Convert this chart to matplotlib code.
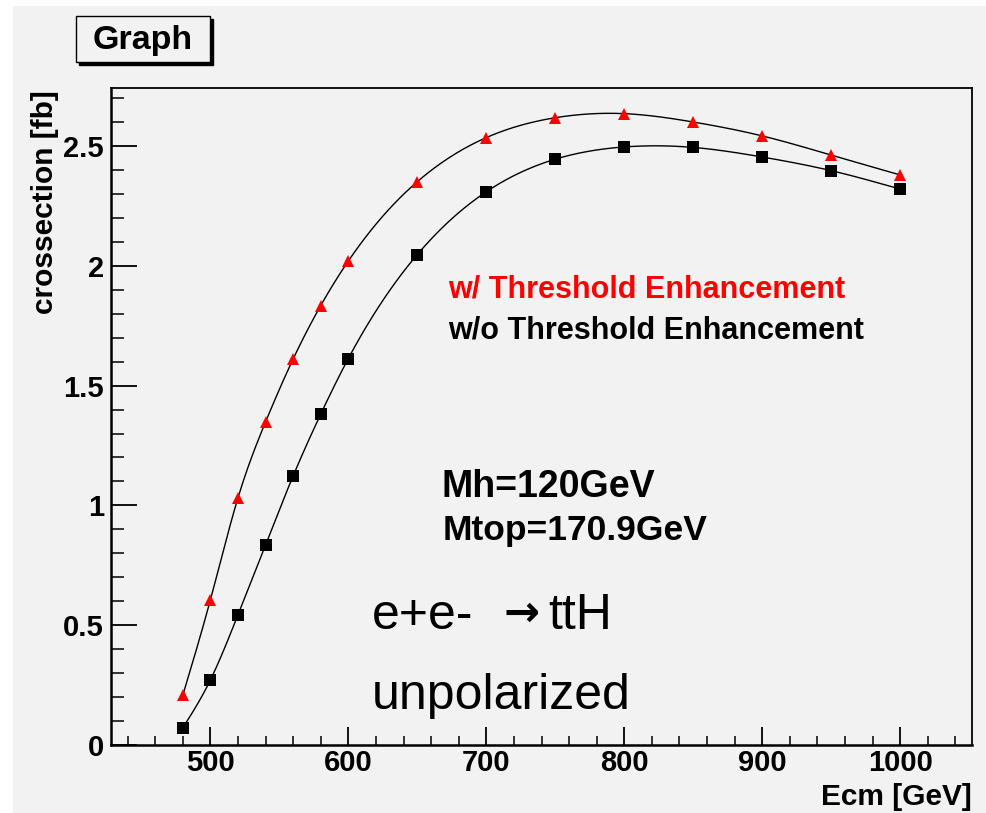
import numpy as np
import matplotlib
matplotlib.use('Agg')
import matplotlib.pyplot as plt
from matplotlib.patches import Rectangle
from matplotlib.ticker import MultipleLocator

# Dane
ecm = [480, 500, 520, 540, 560, 580, 600, 650, 700, 750, 800, 850, 900, 950, 1000]
xsec_with = [0.207, 0.605, 1.031, 1.348, 1.611, 1.834, 2.020, 2.351, 2.535,
             2.618, 2.635, 2.600, 2.542, 2.462, 2.379]
xsec_without = [0.071, 0.271, 0.543, 0.835, 1.123, 1.381, 1.613, 2.047, 2.309,
                2.445, 2.496, 2.494, 2.454, 2.397, 2.320]

W, H = 986, 813
BG = '#f2f2f2'
FONT = ['Liberation Sans', 'DejaVu Sans']


# Gladka krzywa przez punkty (naturalny spline kubiczny)
def spline(x, y, n=500):
    x = np.asarray(x, float)
    y = np.asarray(y, float)
    h = np.diff(x)
    m = len(x)
    A = np.zeros((m, m))
    b = np.zeros(m)
    A[0, 0] = A[-1, -1] = 1
    for i in range(1, m - 1):
        A[i, i - 1] = h[i - 1]
        A[i, i] = 2 * (h[i - 1] + h[i])
        A[i, i + 1] = h[i]
        b[i] = 3 * ((y[i + 1] - y[i]) / h[i] - (y[i] - y[i - 1]) / h[i - 1])
    c = np.linalg.solve(A, b)
    xs = np.linspace(x[0], x[-1], n)
    idx = np.clip(np.searchsorted(x, xs) - 1, 0, m - 2)
    dx = xs - x[idx]
    bb = (y[idx + 1] - y[idx]) / h[idx] - h[idx] * (2 * c[idx] + c[idx + 1]) / 3
    d = (c[idx + 1] - c[idx]) / (3 * h[idx])
    return xs, y[idx] + bb * dx + c[idx] * dx ** 2 + d * dx ** 3


def fx(px):
    return px / W


def fy(py):
    return 1 - py / H


fig = plt.figure(figsize=(W / 100, H / 100), dpi=100, facecolor='white')
fig.patches.append(Rectangle((fx(13), 0), 1 - fx(13), fy(6), transform=fig.transFigure,
                             facecolor=BG, edgecolor='none', zorder=-10))

left, right, top, bottom = 111, 972, 88, 745
ax = fig.add_axes([fx(left), fy(bottom), fx(right - left), fy(top) - fy(bottom)])
ax.set_zorder(1)
ax.set_facecolor(BG)

xs, ys = spline(ecm, xsec_with)
ax.plot(xs, ys, color='black', lw=1.0, zorder=2)
xs, ys = spline(ecm, xsec_without)
ax.plot(xs, ys, color='black', lw=1.0, zorder=2)
ax.plot(ecm, xsec_with, linestyle='none', marker='^', ms=8.5, color='#ff0000',
        markeredgewidth=0, zorder=3)
ax.plot(ecm, xsec_without, linestyle='none', marker='s', ms=8, color='black',
        markeredgewidth=0, zorder=3)

ax.set_xlim(428, 1052)
ax.set_ylim(0, 2.742)
ax.xaxis.set_major_locator(MultipleLocator(100))
ax.xaxis.set_minor_locator(MultipleLocator(20))
ax.yaxis.set_major_locator(MultipleLocator(0.5))
ax.yaxis.set_minor_locator(MultipleLocator(0.1))
ax.tick_params(axis='x', which='major', direction='in', length=13, width=1.3,
               pad=3, labelsize=21, top=False)
ax.tick_params(axis='x', which='minor', direction='in', length=6.3, width=1.1, top=False)
ax.tick_params(axis='y', which='major', direction='in', length=19, width=1.3,
               pad=5, labelsize=21, right=False)
ax.tick_params(axis='y', which='minor', direction='in', length=9.4, width=1.1, right=False)
ax.set_xticks([500, 600, 700, 800, 900, 1000])
ax.set_xticklabels(['500', '600', '700', '800', '900', '1000'])
ax.set_yticks([0, 0.5, 1, 1.5, 2, 2.5])
ax.set_yticklabels(['0', '0.5', '1', '1.5', '2', '2.5'])
for lab in ax.get_xticklabels() + ax.get_yticklabels():
    lab.set_fontfamily(FONT)
    lab.set_fontweight('bold')
for side in ['left', 'bottom']:
    ax.spines[side].set_linewidth(1.8)
for side in ['top', 'right']:
    ax.spines[side].set_linewidth(1.3)

# Opisy osi
fig.text(fx(45), fy(90), 'crossection [fb]', rotation=90, ha='center', va='top',
         fontsize=21.5, fontweight='bold', family=FONT)
fig.text(fx(972), fy(797), 'Ecm [GeV]', ha='right', va='center',
         fontsize=21.5, fontweight='bold', family=FONT)

# Tytul w ramce z cieniem
fig.patches.append(Rectangle((fx(79), fy(65)), fx(134), fy(16) - fy(62),
                             transform=fig.transFigure, facecolor='black',
                             edgecolor='black', zorder=5))
fig.patches.append(Rectangle((fx(76), fy(62)), fx(134), fy(16) - fy(62),
                             transform=fig.transFigure, facecolor=BG,
                             edgecolor='black', lw=1.0, zorder=6))
fig.text(fx(143), fy(40), 'Graph', ha='center', va='center', fontsize=24.5,
         fontweight='bold', family=FONT, zorder=7)

# Napisy na wykresie
fig.text(fx(448), fy(289), 'w/ Threshold Enhancement', ha='left', va='center',
         fontsize=22, fontweight='bold', color='#ff0000', family=FONT, zorder=8)
fig.text(fx(448), fy(330), 'w/o Threshold Enhancement', ha='left', va='center',
         fontsize=22, fontweight='bold', color='black', family=FONT, zorder=8)
fig.text(fx(441), fy(487), 'Mh=120GeV', ha='left', va='center',
         fontsize=27, fontweight='bold', family=FONT, zorder=8)
fig.text(fx(443), fy(530), 'Mtop=170.9GeV', ha='left', va='center',
         fontsize=25.5, fontweight='bold', family=FONT, zorder=8)
fig.text(fx(372), fy(616), 'e+e-', ha='left', va='center',
         fontsize=36, family=FONT, zorder=8)
fig.text(fx(503), fy(614), '\u2192', ha='left', va='center',
         fontsize=31, fontweight='bold', family=['DejaVu Sans'], zorder=8)
fig.text(fx(548), fy(616), 'ttH', ha='left', va='center',
         fontsize=36, family=FONT, zorder=8)
fig.text(fx(372), fy(696), 'unpolarized', ha='left', va='center',
         fontsize=36, family=FONT, zorder=8)

fig.savefig('out.png', dpi=100, facecolor='white')
